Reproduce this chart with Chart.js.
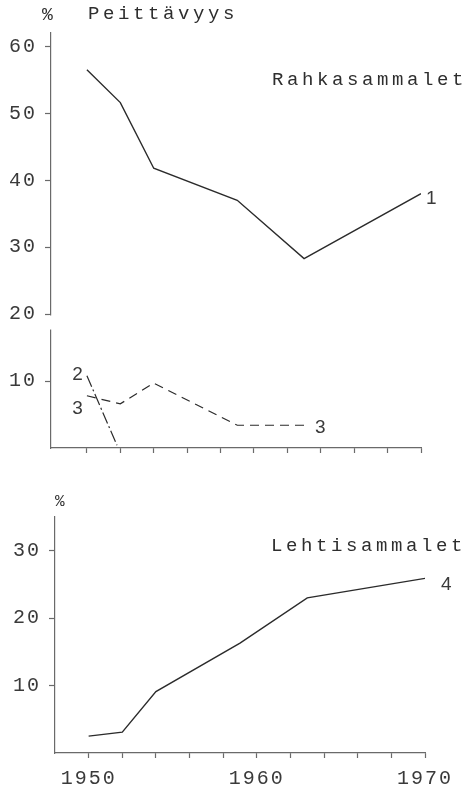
<!DOCTYPE html>
<html>
<head>
<meta charset="utf-8">
<script src="https://cdn.jsdelivr.net/npm/chart.js@4/dist/chart.umd.min.js"></script>
<style>
  body { margin:0; background:#fff; width:468px; height:789px; position:relative; overflow:hidden;
         font-family:"Liberation Mono", monospace; color:#2e2e2e; }
  .box { position:absolute; left:0; width:468px; }
  #top { top:0; height:470px; }
  #bottom { top:470px; height:319px; }
  .txt { position:absolute; white-space:nowrap; letter-spacing:3.6px; font-size:19px; line-height:1; }
  .pct { letter-spacing:0; }
</style>
</head>
<body>
<div class="box" id="top"><canvas id="c1"></canvas></div>
<div class="box" id="bottom"><canvas id="c2"></canvas></div>
<div class="txt pct" style="left:42px;top:6px;font-size:18px">%</div>
<div class="txt" style="left:88px;top:5px">Peittävyys</div>
<div class="txt" style="left:272px;top:71px">Rahkasammalet</div>
<div class="txt" style="left:271px;top:537px">Lehtisammalet</div>
<div class="txt pct" style="left:55px;top:494px;font-size:16px">%</div>
<script>
// coverage (%) by year
const years1 = [1950, 1952, 1954, 1959, 1963, 1970];
const curve1 = [56.5, 51.6, 41.8, 37.0, 28.3, 38.0];
const years2 = [1950, 1951.8];
const curve2 = [10.8, 0.4];
const years3 = [1950, 1952, 1954, 1959, 1963];
const curve3 = [7.8, 6.6, 9.7, 3.4, 3.4];
const years4 = [1950, 1952, 1954, 1959, 1963, 1970];
const curve4 = [2.5, 3.1, 9.1, 16.3, 23.0, 25.9];

const yearTicks = [1950, 1952, 1954, 1956, 1958, 1960, 1962, 1964, 1966, 1968, 1970];
const yearLabels = [1950, 1960, 1970];
const topYTicks = [10, 20, 30, 40, 50, 60];
const bottomYTicks = [10, 20, 30];

const ink = '#2b2b2b';
const axisInk = '#6a6a6a';
const tickFont = { family: 'Liberation Mono', size: 20 };

const pts = (xs, ys) => xs.map((x, i) => ({ x: x, y: ys[i] }));

// typewriter spacing for the canvas text
const spacing = {
  id: 'spacing',
  beforeDraw(chart) { chart.ctx.letterSpacing = '2px'; }
};

// small number tags next to each curve
const tags = {
  id: 'tags',
  afterDatasetsDraw(chart) {
    const ctx = chart.ctx;
    ctx.save();
    ctx.font = '19px "Liberation Sans"';
    ctx.fillStyle = '#3a3a3a';
    ctx.textBaseline = 'middle';
    ctx.letterSpacing = '0px';
    chart.data.datasets.forEach((ds, i) => {
      (ds.tags || []).forEach(t => {
        const el = chart.getDatasetMeta(i).data[t.at];
        ctx.textAlign = t.align;
        ctx.fillText(t.text, el.x + t.dx, el.y + t.dy);
      });
    });
    ctx.restore();
  }
};

// broken y-axis just below 20
const axisBreak = {
  id: 'axisBreak',
  afterDraw(chart) {
    const y = chart.scales.y;
    const ctx = chart.ctx;
    ctx.save();
    ctx.fillStyle = '#fff';
    const y1 = y.getPixelForValue(19.8), y2 = y.getPixelForValue(17.7);
    ctx.fillRect(chart.chartArea.left - 2, y1, 4, y2 - y1);
    ctx.restore();
  }
};

function xScale(min, height, showLabels) {
  return {
    type: 'linear', min: min, max: 1970,
    afterBuildTicks: s => { s.ticks = yearTicks.map(v => ({ value: v })); },
    afterFit: s => { s.height = height; },
    border: { display: true, color: axisInk, width: 1.2 },
    grid: { drawOnChartArea: false, drawTicks: true, tickLength: 5, tickColor: axisInk, tickWidth: 1.2 },
    ticks: {
      autoSkip: false, maxRotation: 0, padding: 9, color: '#3a3a3a', font: tickFont,
      callback: v => (showLabels && yearLabels.includes(v)) ? String(v) : ''
    }
  };
}

function yScale(max, tickList, width) {
  return {
    type: 'linear', min: 0, max: max,
    afterBuildTicks: s => { s.ticks = tickList.map(v => ({ value: v })); },
    afterFit: s => { s.width = width; },
    border: { display: true, color: axisInk, width: 1.2 },
    grid: { drawOnChartArea: false, drawTicks: true, tickLength: 6, tickColor: axisInk, tickWidth: 1.2 },
    ticks: { padding: 8, color: '#3a3a3a', font: tickFont, callback: v => String(v) }
  };
}

const baseOptions = {
  responsive: true,
  maintainAspectRatio: false,
  animation: false,
  plugins: { legend: { display: false }, tooltip: { enabled: false } },
  elements: { point: { radius: 0 }, line: { tension: 0, borderCapStyle: 'butt' } }
};

new Chart(document.getElementById('c1'), {
  type: 'line',
  data: {
    datasets: [
      { data: pts(years1, curve1), borderColor: ink, borderWidth: 1.4,
        tags: [{ text: '1', at: 5, align: 'left', dx: 5, dy: 5 }] },
      { data: pts(years2, curve2), borderColor: ink, borderWidth: 1.2, borderDash: [12, 3, 2, 3],
        tags: [{ text: '2', at: 0, align: 'right', dx: -4, dy: -1 }] },
      { data: pts(years3, curve3), borderColor: ink, borderWidth: 1.2, borderDash: [9, 6],
        tags: [{ text: '3', at: 0, align: 'right', dx: -4, dy: 13 },
               { text: '3', at: 4, align: 'left', dx: 11, dy: 3 }] }
    ]
  },
  options: Object.assign({}, baseOptions, {
    layout: { padding: { left: 0, right: 47, top: 33, bottom: 0 } },
    scales: { x: xScale(1947.85, 22, false), y: yScale(62, topYTicks, 51) }
  }),
  plugins: [spacing, tags, axisBreak]
});

new Chart(document.getElementById('c2'), {
  type: 'line',
  data: {
    datasets: [
      { data: pts(years4, curve4), borderColor: ink, borderWidth: 1.4,
        tags: [{ text: '4', at: 5, align: 'left', dx: 16, dy: 6 }] }
    ]
  },
  options: Object.assign({}, baseOptions, {
    layout: { padding: { left: 0, right: 43, top: 47, bottom: 0 } },
    scales: { x: xScale(1948, 36, true), y: yScale(35, bottomYTicks, 55) }
  }),
  plugins: [spacing, tags]
});
</script>
</body>
</html>
